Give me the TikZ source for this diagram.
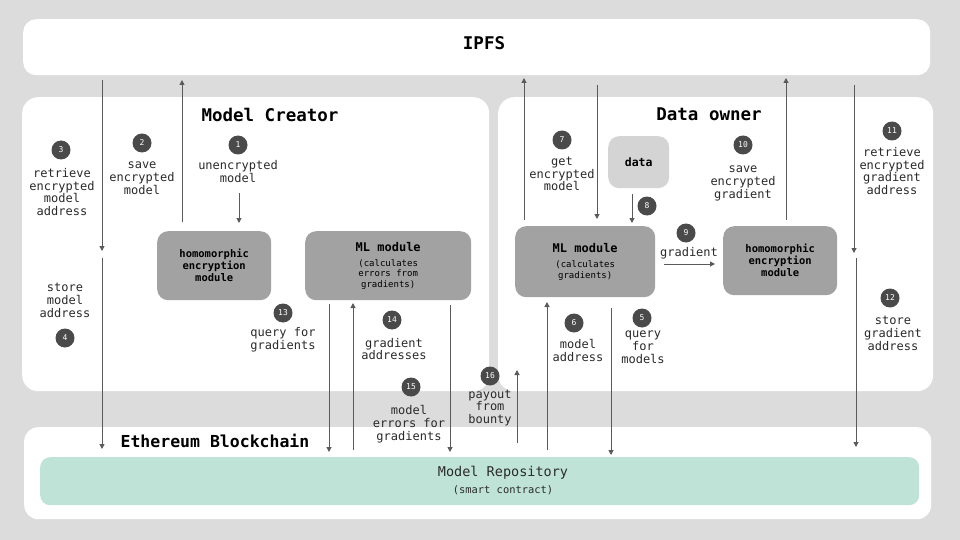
\documentclass[tikz,border=0pt]{standalone}
\usepackage{fontspec}
\setmainfont{DejaVu Sans Mono}
\usetikzlibrary{arrows.meta}
\definecolor{bg}{HTML}{DCDCDC}
\definecolor{modc}{HTML}{A2A2A2}
\definecolor{datac}{HTML}{D4D4D4}
\definecolor{repoc}{HTML}{C0E3D8}
\definecolor{arrc}{HTML}{5A5A5A}
\definecolor{badgec}{HTML}{4A4A4A}
\definecolor{txtc}{HTML}{2A2A2A}
\newcommand\mltitle[1]{{\fontsize{12}{10.5}\selectfont\bfseries #1}}
\begin{document}
\begin{tikzpicture}[x=1pt,y=-1pt,
  panel/.style={fill=white, rounded corners=16pt, anchor=north west, inner sep=0},
  module/.style={fill=modc, rounded corners=11pt, anchor=north west, inner sep=0, align=center, text=black, font=\fontsize{10.5}{12}\selectfont\bfseries},
  mlmod/.style={module, font=\fontsize{9}{10.5}\selectfont},
  lbl/.style={align=center, text=txtc, inner sep=0, font=\fontsize{12}{12.8}\selectfont},
  badge/.style={circle, fill=badgec, text=white, minimum size=19pt, inner sep=0, font=\fontsize{8}{8}\selectfont},
  arr/.style={draw=arrc, line width=1pt, -{Triangle[length=5pt,width=5pt]}},
  ttl/.style={font=\fontsize{17.5}{18}\selectfont\bfseries, inner sep=0}]
\fill[bg] (0,0) rectangle (960,540);
\useasboundingbox (0,0) rectangle (960,540);

% containers
\node[panel, minimum width=907pt, minimum height=56pt, rounded corners=13pt] (ipfs) at (23,19) {};
\node[ttl] (ipfst) at (484,43) {IPFS};
\node[panel, minimum width=467pt, minimum height=294pt] (mc) at (22,97) {};
\node[ttl] (mct) at (270,115) {Model Creator};
\node[panel, minimum width=435pt, minimum height=294pt] (do) at (498,97) {};
\node[ttl] (dot) at (709,114) {Data owner};
\node[panel, minimum width=907pt, minimum height=92pt, rounded corners=14pt] (eth) at (24,427) {};
\node[ttl, font=\fontsize{16.5}{17}\selectfont\bfseries] (etht) at (215,441) {Ethereum Blockchain};
\node[panel, fill=repoc, minimum width=879pt, minimum height=48pt, rounded corners=10pt] (repo) at (40,457) {};
\node[inner sep=0, font=\fontsize{13.5}{14}\selectfont, text=txtc] (repot) at (503,473) {Model Repository};
\node[inner sep=0, font=\fontsize{10.4}{11}\selectfont, text=txtc] (repos) at (503,490) {(smart contract)};

% modules
\node[module, minimum width=114pt, minimum height=69pt] (he1) at (157,231) {homomorphic\\encryption\\module};
\node[mlmod, minimum width=166pt, minimum height=69pt] (ml1) at (305,231)
  {\mltitle{ML module}\\[4.5pt](calculates\\errors from\\gradients)};
\node[mlmod, minimum width=140pt, minimum height=71pt] (ml2) at (515,226)
  {\mltitle{ML module}\\[4.5pt](calculates\\gradients)};
\node[module, minimum width=114pt, minimum height=69pt] (he2) at (723,226) {homomorphic\\encryption\\module};
\node[module, fill=datac, minimum width=61pt, minimum height=52pt, font=\fontsize{11.5}{12}\selectfont\bfseries] (data) at (608,136) {data};

% badges
\node[badge] (b1) at (238,145) {1};
\node[badge] (b2) at (142,143) {2};
\node[badge] (b3) at (61,150) {3};
\node[badge] (b4) at (65,338) {4};
\node[badge] (b5) at (642,318) {5};
\node[badge] (b6) at (574,323) {6};
\node[badge] (b7) at (562,140) {7};
\node[badge] (b8) at (647,206) {8};
\node[badge] (b9) at (686,233) {9};
\node[badge] (b10) at (743,145) {10};
\node[badge] (b11) at (892,131) {11};
\node[badge] (b12) at (890,298) {12};
\node[badge] (b13) at (283,313) {13};
\node[badge] (b14) at (392,320) {14};
\node[badge] (b15) at (411,387) {15};
\node[badge] (b16) at (490,376) {16};

% labels
\node[lbl] (l1) at (238,171.5) {unencrypted\\model};
\node[lbl] (l2) at (142,178.5) {save\\encrypted\\model};
\node[lbl] (l3) at (62,192) {retrieve\\encrypted\\model\\address};
\node[lbl] (l4) at (65,300.5) {store\\model\\address};
\node[lbl] (l5) at (643,347.5) {query\\for\\models};
\node[lbl] (l6) at (578,350.5) {model\\address};
\node[lbl] (l7) at (562,174) {get\\encrypted\\model};
\node[lbl] (l9) at (689,253) {gradient};
\node[lbl] (l10) at (743,183.5) {save\\encrypted\\gradient};
\node[lbl] (l11) at (892,171) {retrieve\\encrypted\\gradient\\address};
\node[lbl] (l12) at (893,333.5) {store\\gradient\\address};
\node[lbl] (l13) at (283,340) {query for\\gradients};
\node[lbl] (l14) at (394,349) {gradient\\addresses};
\node[lbl] (l15) at (409,424) {model\\errors for\\gradients};
\node[lbl] (l16) at (490,408) {payout\\from\\bounty};

% connector end points
\coordinate (a3s) at (102,80);  \coordinate (a3e) at (102,251);
\coordinate (a4s) at (102,258); \coordinate (a4e) at (102,449);
\coordinate (a2s) at (182,222); \coordinate (a2e) at (182,80);
\coordinate (a1s) at (239,193); \coordinate (a1e) at (239,223);
\coordinate (a13s) at (329,304); \coordinate (a13e) at (329,452);
\coordinate (a14s) at (353,450); \coordinate (a14e) at (353,303);
\coordinate (a15s) at (450,305); \coordinate (a15e) at (450,452);
\coordinate (a16s) at (517,443); \coordinate (a16e) at (517,370);
\coordinate (a7us) at (524,220); \coordinate (a7ue) at (524,78);
\coordinate (a7ds) at (597,85);  \coordinate (a7de) at (597,219);
\coordinate (a8s) at (632,194);  \coordinate (a8e) at (632,223);
\coordinate (a9s) at (664,264);  \coordinate (a9e) at (715,264);
\coordinate (a6s) at (547,450);  \coordinate (a6e) at (547,302);
\coordinate (a5s) at (611,308);  \coordinate (a5e) at (611,455);
\coordinate (a10s) at (786,220); \coordinate (a10e) at (786,78);
\coordinate (a11s) at (854,85);  \coordinate (a11e) at (854,253);
\coordinate (a12s) at (856,258); \coordinate (a12e) at (856,447);

\draw[arr] (a3s) -- (a3e);
\draw[arr] (a4s) -- (a4e);
\draw[arr] (a2s) -- (a2e);
\draw[arr] (a1s) -- (a1e);
\draw[arr] (a13s) -- (a13e);
\draw[arr] (a14s) -- (a14e);
\draw[arr] (a15s) -- (a15e);
\draw[arr] (a16s) -- (a16e);
\draw[arr] (a7us) -- (a7ue);
\draw[arr] (a7ds) -- (a7de);
\draw[arr] (a8s) -- (a8e);
\draw[arr] (a9s) -- (a9e);
\draw[arr] (a6s) -- (a6e);
\draw[arr] (a5s) -- (a5e);
\draw[arr] (a10s) -- (a10e);
\draw[arr] (a11s) -- (a11e);
\draw[arr] (a12s) -- (a12e);
\end{tikzpicture}
\end{document}
